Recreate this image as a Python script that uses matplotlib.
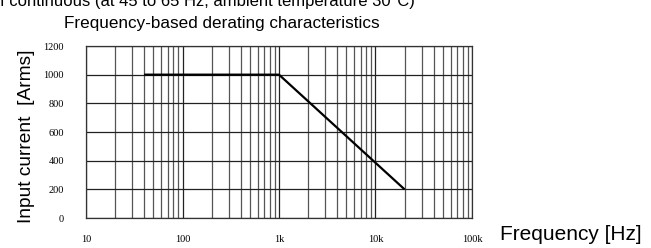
import matplotlib.pyplot as plt
from matplotlib.ticker import FixedLocator, NullFormatter

freq = [40, 1000, 20000]
current = [1000, 1000, 200]
xticks = [10, 100, 1000, 10000, 100000]
xlabels = ['10', '100', '1k', '10k', '100k']
yticks = [0, 200, 400, 600, 800, 1000, 1200]

sans = 'Liberation Sans'
serif = 'Liberation Serif'

fig = plt.figure(figsize=(6.51, 2.48), dpi=100)
ax = fig.add_axes([86/651, 1-218/248, 386/651, 172/248])

ax.plot(freq, current, color='black', lw=1.6, solid_capstyle='butt')

ax.set_xscale('log')
ax.set_xlim(10, 100000)
ax.set_ylim(0, 1200)
ax.set_xticks(xticks)
ax.set_xticklabels(xlabels, fontfamily=serif, fontsize=7.5)
ax.xaxis.set_minor_locator(FixedLocator([m * 10**e for e in range(1, 5) for m in range(2, 10)]))
ax.xaxis.set_minor_formatter(NullFormatter())
ax.set_yticks(yticks)
ax.set_yticklabels([str(v) for v in yticks], fontfamily=serif, fontsize=7.5)
ax.tick_params(which='both', length=0)
ax.tick_params(axis='x', pad=12)
ax.tick_params(axis='y', pad=16)

ax.grid(True, which='major', color='#222222', lw=0.9)
ax.grid(True, which='minor', axis='x', color='#555555', lw=0.9)
for s in ax.spines.values():
    s.set_color('#333333')
    s.set_linewidth(0.9)

fig.text(0.0, 1 - 6/248, 'I continuous (at 45 to 65 Hz, ambient temperature 30\u00b0C)',
         fontfamily=sans, fontsize=12, ha='left', va='baseline')
fig.text(222/651, 1 - 28/248, 'Frequency-based derating characteristics',
         fontfamily=sans, fontsize=12.3, ha='center', va='baseline')
fig.text(27/651, 1 - 136/248, 'Input current  [Arms]', fontfamily=sans, fontsize=13.8,
         rotation=90, ha='center', va='center')
fig.text(500/651, 1 - 235/248, 'Frequency [Hz]', fontfamily=sans, fontsize=15,
         ha='left', va='center')

fig.savefig('out.png', dpi=100)
